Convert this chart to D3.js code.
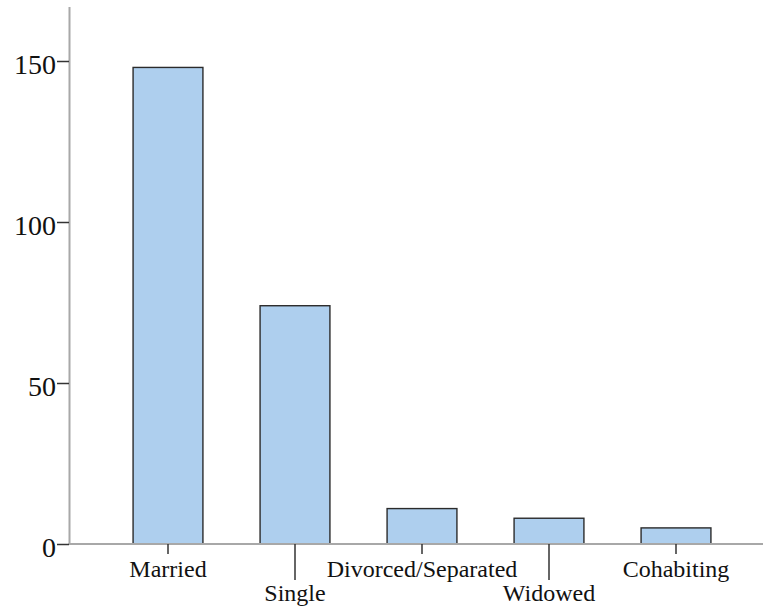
<!DOCTYPE html>
<html>
<head>
<meta charset="utf-8">
<script src="https://cdn.jsdelivr.net/npm/d3@7"></script>
<style>
  html, body { margin: 0; padding: 0; background: #ffffff; }
  svg { display: block; }
</style>
</head>
<body>
<svg id="chart" width="763" height="607"></svg>
<script>
const categories = ["Married", "Single", "Divorced/Separated", "Widowed", "Cohabiting"];
const counts = [148, 74, 11, 8, 5];
const yTicks = [0, 50, 100, 150];

const FONT = "'Liberation Serif', 'Times New Roman', Times, serif";
const svg = d3.select("#chart");

const x = d3.scaleBand()
  .domain(categories)
  .range([104.5, 739.5])
  .paddingInner(0.45)
  .paddingOuter(0.225);

const y = d3.scaleLinear()
  .domain([0, 150])
  .range([544, 61]);

const x0 = 69.5;

// bars
svg.append("g").selectAll("rect")
  .data(categories)
  .join("rect")
  .attr("x", d => x(d))
  .attr("y", (d, i) => y(counts[i]))
  .attr("width", x.bandwidth())
  .attr("height", (d, i) => y(0) - y(counts[i]))
  .attr("fill", "#aecfee")
  .attr("stroke", "#2b2b2b")
  .attr("stroke-width", 1.4);

// y axis line
svg.append("line")
  .attr("x1", x0).attr("x2", x0)
  .attr("y1", 7).attr("y2", y(0))
  .attr("stroke", "#a8a8a8").attr("stroke-width", 2);

// x axis line
svg.append("line")
  .attr("x1", x0 - 1).attr("x2", 763)
  .attr("y1", y(0)).attr("y2", y(0))
  .attr("stroke", "#a8a8a8").attr("stroke-width", 2);

// y ticks
const yAxis = d3.axisLeft(y).tickValues(yTicks).tickSize(12).tickPadding(1);
const gy = svg.append("g").attr("transform", `translate(${x0 - 0.5},0)`).call(yAxis);
gy.attr("font-family", null).attr("font-size", null);
gy.select(".domain").remove();
gy.selectAll(".tick line").attr("stroke", "#333").attr("stroke-width", 1.5);
gy.selectAll(".tick text")
  .attr("dy", "0.43em")
  .style("font-family", FONT)
  .style("font-size", "28px")
  .style("fill", "#111");

// x ticks and labels (staggered)
const gx = svg.append("g");
categories.forEach((c, i) => {
  const cx = x(c) + x.bandwidth() / 2;
  const low = i % 2 === 1;
  gx.append("line")
    .attr("x1", cx).attr("x2", cx)
    .attr("y1", y(0)).attr("y2", y(0) + (low ? 36 : 10))
    .attr("stroke", "#333").attr("stroke-width", 1.5);
  gx.append("text")
    .attr("x", cx)
    .attr("y", low ? 601 : 577)
    .attr("text-anchor", "middle")
    .style("font-family", FONT)
    .style("font-size", "24px")
    .style("fill", "#111")
    .text(c);
});
</script>
</body>
</html>
